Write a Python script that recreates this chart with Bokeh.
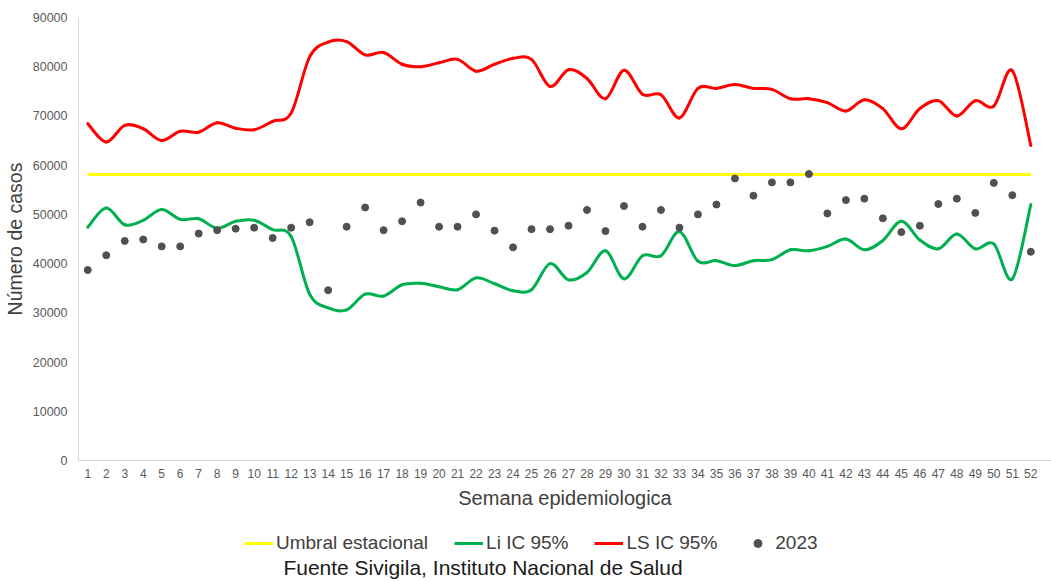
from bokeh.plotting import figure
from bokeh.layouts import column
from bokeh.models import Range1d, FixedTicker, Legend, LegendItem, Label, ColumnDataSource
from bokeh.embed import file_html
from bokeh.resources import INLINE

# ---------------- data ----------------
weeks = list(range(1, 53))
x_ticks = list(range(1, 53))
y_ticks = [0, 10000, 20000, 30000, 40000, 50000, 60000, 70000, 80000, 90000]

umbral = 58100

ls_ic = [68450, 64700, 68100, 67400, 65000, 66900, 66700, 68600, 67500, 67200,
         68900, 70600, 82000, 85000, 85100, 82400, 82900, 80500, 80000, 80800,
         81500, 79100, 80500, 81700, 81500, 76000, 79400, 77600, 73500, 79300,
         74400, 74300, 69600, 75600, 75600, 76400, 75600, 75400, 73500, 73500,
         72700, 71000, 73300, 71500, 67400, 71500, 73100, 70000, 73100, 72000,
         79200, 64000]

li_ic = [47400, 51300, 47900, 48800, 51000, 49000, 49100, 47200, 48600, 48800,
         46900, 45500, 33800, 31000, 30600, 33800, 33400, 35700, 36000, 35300,
         34700, 37100, 35900, 34500, 34700, 40000, 36700, 38200, 42600, 36900,
         41600, 41600, 46500, 40500, 40600, 39600, 40600, 40800, 42800, 42600,
         43500, 45000, 42800, 44700, 48600, 44800, 43000, 46000, 43000, 44000,
         36900, 52000]

cases_2023 = [38700, 41700, 44600, 44900, 43500, 43500, 46100, 46800, 47100, 47300,
              45200, 47300, 48400, 34600, 47500, 51400, 46800, 48600, 52400, 47500,
              47500, 50000, 46700, 43300, 47000, 47000, 47700, 50900, 46600, 51700,
              47500, 50900, 47300, 50000, 52000, 57300, 53800, 56500, 56500, 58200,
              50200, 52900, 53200, 49200, 46400, 47700, 52100, 53200, 50300, 56400,
              53900, 42400]

series_labels = ["Umbral estacional", "Li IC 95%", "LS IC 95%", "2023"]
source_text = "Fuente Sivigila, Instituto Nacional de Salud"

FONT = "Liberation Sans"
YELLOW, GREEN, RED, DOT = "#FFFF00", "#00B050", "#FF0000", "#505050"


def smooth_source(xs, ys):
    """Bezier control points (Excel-like smoothed line) from the data points."""
    n = len(xs)
    d = dict(x0=[], y0=[], x1=[], y1=[], cx0=[], cy0=[], cx1=[], cy1=[])
    for i in range(n - 1):
        a = i - 1 if i > 0 else i
        b = i + 2 if i + 2 < n else i + 1
        d["x0"].append(xs[i]); d["y0"].append(ys[i])
        d["x1"].append(xs[i + 1]); d["y1"].append(ys[i + 1])
        d["cx0"].append(xs[i] + (xs[i + 1] - xs[a]) / 6.0)
        d["cy0"].append(ys[i] + (ys[i + 1] - ys[a]) / 6.0)
        d["cx1"].append(xs[i + 1] - (xs[b] - xs[i]) / 6.0)
        d["cy1"].append(ys[i + 1] - (ys[b] - ys[i]) / 6.0)
    return ColumnDataSource(d)


W = 1051
p = figure(width=W, height=515, output_backend="svg", toolbar_location=None,
           x_range=Range1d(0.5, 53.12), y_range=Range1d(0, 90000),
           min_border_left=78, min_border_right=0, min_border_top=17,
           min_border_bottom=55)
p.outline_line_color = None
p.xgrid.visible = False
p.ygrid.visible = False

for ax in (p.xaxis[0], p.yaxis[0]):
    ax.axis_line_color = "#D9D9D9"
    ax.axis_line_width = 1
    ax.major_tick_line_color = None
    ax.minor_tick_line_color = None
    ax.major_tick_out = 0
    ax.major_tick_in = 0
    ax.major_label_text_font = FONT
    ax.major_label_text_color = "#595959"
    ax.axis_label_text_font = FONT
    ax.axis_label_text_font_style = "normal"
    ax.axis_label_text_color = "#404040"

p.xaxis.ticker = FixedTicker(ticks=x_ticks)
p.yaxis.ticker = FixedTicker(ticks=y_ticks)
p.xaxis.major_label_text_font_size = "12px"
p.yaxis.major_label_text_font_size = "12.5px"
p.xaxis.major_label_standoff = 8
p.yaxis.major_label_standoff = 11
p.xaxis.axis_label = "Semana epidemiologica"
p.xaxis.axis_label_text_font_size = "20px"
p.xaxis.axis_label_standoff = 6
p.yaxis.axis_label = "Número de casos"
p.yaxis.axis_label_text_font_size = "19.5px"
p.yaxis.axis_label_standoff = 4

p.line(weeks, [umbral] * len(weeks), line_color=YELLOW, line_width=3)
p.bezier(x0="x0", y0="y0", x1="x1", y1="y1", cx0="cx0", cy0="cy0",
         cx1="cx1", cy1="cy1", source=smooth_source(weeks, li_ic),
         line_color=GREEN, line_width=3, line_cap="round")
p.bezier(x0="x0", y0="y0", x1="x1", y1="y1", cx0="cx0", cy0="cy0",
         cx1="cx1", cy1="cy1", source=smooth_source(weeks, ls_ic),
         line_color=RED, line_width=3, line_cap="round")
p.scatter(weeks, cases_2023, size=7, marker="circle",
          fill_color=DOT, line_color=DOT)

# ---------- legend + source strip (own figure so nothing is clipped) ----------
# The same series are attached here only to style the legend keys; this strip's
# ranges contain none of their values, so nothing is drawn in it.
q = figure(width=W, height=66, output_backend="svg", toolbar_location=None,
           x_range=Range1d(0, 1), y_range=Range1d(0, 1),
           x_axis_type=None, y_axis_type=None, min_border=0,
           min_border_left=78, min_border_right=0)
q.outline_line_color = None
q.xgrid.visible = False
q.ygrid.visible = False

k1 = q.line(weeks, [umbral] * len(weeks), line_color=YELLOW, line_width=3)
k2 = q.line(weeks, li_ic, line_color=GREEN, line_width=3)
k3 = q.line(weeks, ls_ic, line_color=RED, line_width=3)
k4 = q.scatter(weeks, cases_2023, size=7, marker="circle",
               fill_color=DOT, line_color=DOT)

legend = Legend(items=[LegendItem(label=lab, renderers=[r])
                       for lab, r in zip(series_labels, [k1, k2, k3, k4])],
                orientation="horizontal", location=(166, 27))
legend.label_text_font = FONT
legend.label_text_font_size = "19px"
legend.label_text_color = "#404040"
legend.glyph_width = 29
legend.glyph_height = 20
legend.label_height = 20
legend.label_standoff = 3
legend.spacing = 26
legend.padding = 0
legend.margin = 0
legend.border_line_color = None
legend.background_fill_alpha = 0
q.add_layout(legend, "center")

q.add_layout(Label(x=404.5, y=14, x_units="screen", y_units="screen",
                   text=source_text, text_font=FONT, text_font_size="21px",
                   text_color="#1A1A1A", text_align="center",
                   text_baseline="middle"))

layout = column(p, q, spacing=0)
open("out.html", "w").write(file_html(layout, INLINE))
